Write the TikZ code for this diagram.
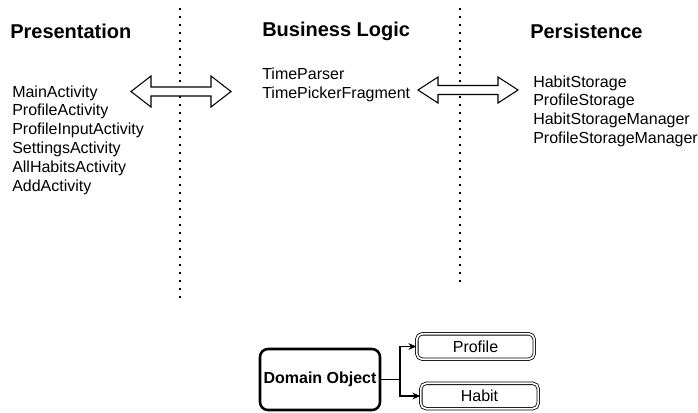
\documentclass[tikz,border=0pt]{standalone}
\usepackage{fontspec}
\setmainfont{Liberation Sans}
\usetikzlibrary{arrows.meta}
\begin{document}
\begin{tikzpicture}[x=0.75pt,y=-0.75pt,
  header/.style={anchor=west,inner sep=0pt,font=\fontsize{15}{18}\selectfont\bfseries},
  item/.style={anchor=west,inner sep=0pt,text height=8.6pt,text depth=2.5pt,font=\fontsize{12}{14}\selectfont},
  divider/.style={line width=1.4pt,dash pattern=on 1.4pt off 4.6pt},
  flow/.style={fill=white,draw=black,line width=0.8pt,line join=miter},
  domainbox/.style={draw,line width=1.9pt,rounded corners=6pt,minimum width=90pt,minimum height=45.75pt,inner sep=0pt,font=\fontsize{12}{14}\selectfont\bfseries},
  kindbox/.style={draw,double,double distance=1.3pt,line width=0.6pt,rounded corners=4pt,minimum width=88pt,minimum height=19pt,inner sep=0pt,font=\fontsize{12}{14}\selectfont},
  link/.style={line width=0.8pt,-{Stealth[length=6pt,width=5pt]}}]
\useasboundingbox (0,0) rectangle (698,412);

% layer dividers
\coordinate (d1top) at (180,8);
\coordinate (d1bot) at (180,301);
\coordinate (d2top) at (460,8);
\coordinate (d2bot) at (460,282);
\draw[divider] (d1top) -- (d1bot);
\draw[divider] (d2top) -- (d2bot);

% layer titles
\node[header] (hpres) at (10,31) {Presentation};
\node[header] (hbus) at (262,31) {Business Logic};
\node[header] (hpers) at (530,31) {Persistence};

% presentation classes
\foreach \t [count=\i] in {MainActivity,ProfileActivity,ProfileInputActivity,SettingsActivity,AllHabitsActivity,AddActivity}
  \node[item,name=p\i] at (12,{93+18.8*(\i-1)}) {\t};

% business logic classes
\foreach \t [count=\i] in {TimeParser,TimePickerFragment}
  \node[item,name=b\i] at (262,{75+19.5*(\i-1)}) {\t};

% persistence classes
\foreach \t [count=\i] in {HabitStorage,ProfileStorage,HabitStorageManager,ProfileStorageManager}
  \node[item,name=s\i] at (533,{83+18.7*(\i-1)}) {\t};

% two-way block arrows between layers
\draw[flow] (131,91.5) -- (151,76) -- (151,87) -- (211,87) -- (211,76) -- (231,91.5)
  -- (211,107) -- (211,96) -- (151,96) -- (151,107) -- cycle;
\draw[flow] (418,90) -- (438,77) -- (438,85.5) -- (498,85.5) -- (498,77) -- (518,90)
  -- (498,103) -- (498,94.5) -- (438,94.5) -- (438,103) -- cycle;

% domain objects
\node[domainbox] (dom) at (320,379.5) {Domain Object};
\node[kindbox] (prof) at (475.5,346.5) {Profile};
\node[kindbox] (habit) at (479.5,396) {Habit};

\coordinate (split) at (400,379.5);
\draw[line width=0.8pt] (dom.east) -- (split);
\draw[link] (split) |- (prof.west);
\draw[link] (split) |- (habit.west);
\end{tikzpicture}
\end{document}
